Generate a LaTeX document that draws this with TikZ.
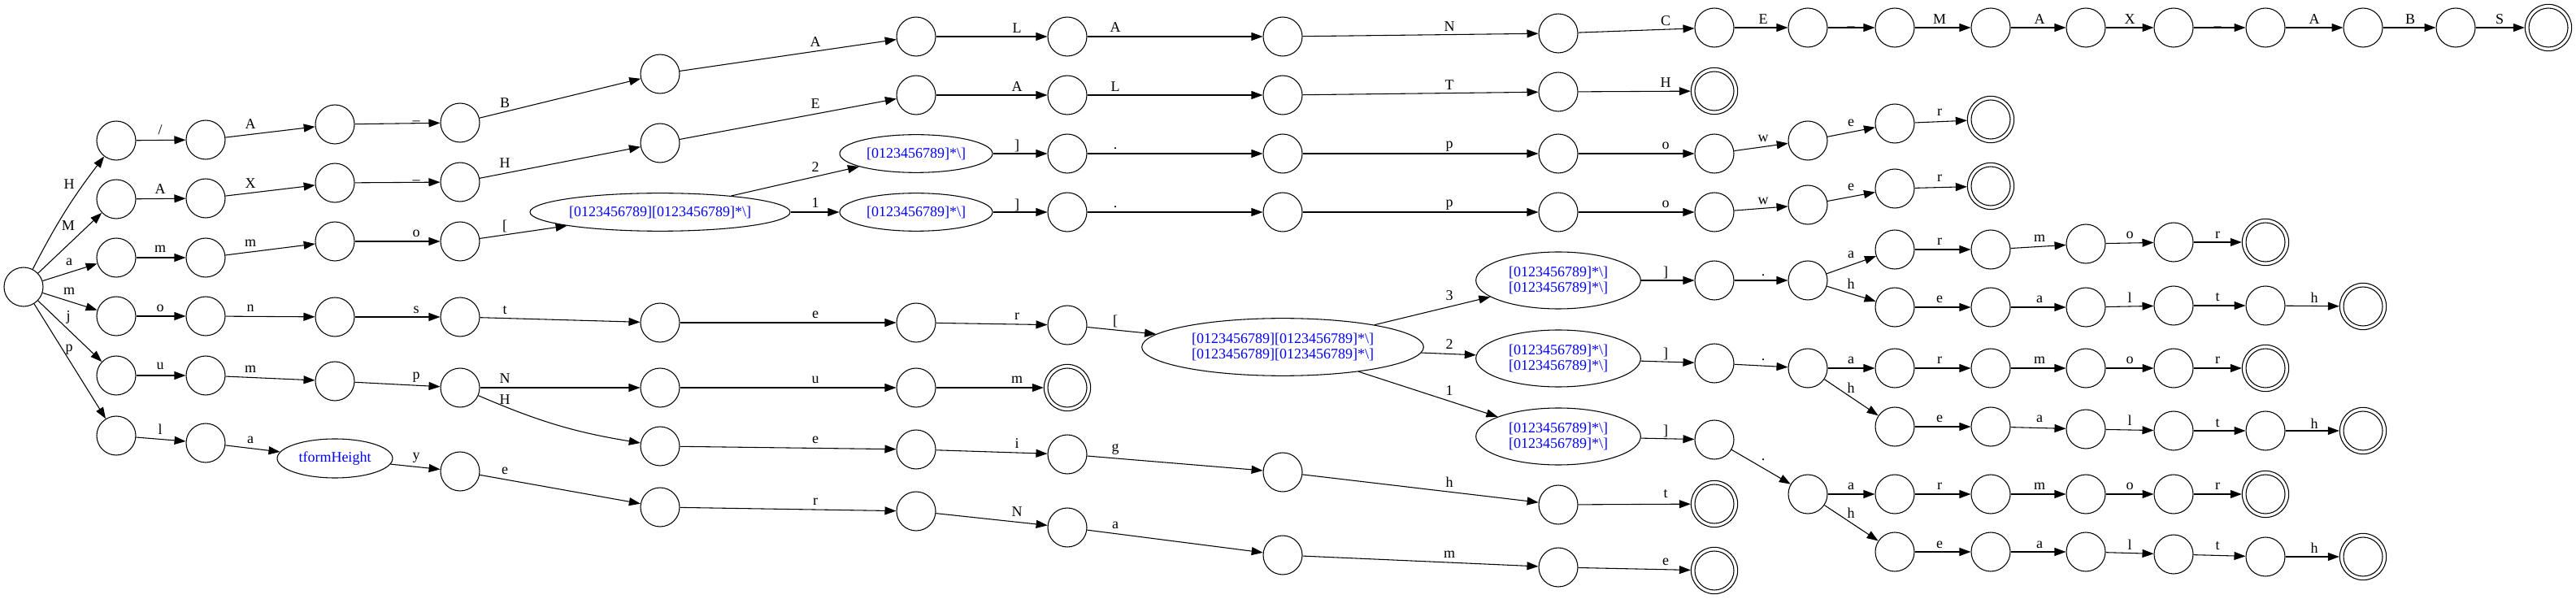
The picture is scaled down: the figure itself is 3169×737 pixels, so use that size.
\documentclass[tikz,border=0pt]{standalone}
\usepackage{fontspec}
\setmainfont{Liberation Serif}
\usepackage{xcolor}
\usepackage{tikz}
\usetikzlibrary{arrows.meta,shapes.geometric}

\begin{document}
\begin{tikzpicture}[
    x=0.75pt, y=-0.75pt,
    font=\fontsize{13.5}{14.5}\selectfont,
    st/.style={circle, draw, line width=0.8pt, minimum size=36pt, inner sep=0pt},
    acc/.style={st, minimum size=43pt, path picture={\draw[line width=0.8pt] (path picture bounding box.center) circle[radius=18pt];}},
    rgx/.style={ellipse, draw, line width=0.8pt, inner sep=0pt, text=blue, align=center},
    arrow/.style={-{Triangle[length=10.5pt, width=7.5pt]}, line width=0.8pt},
    lab/.style={inner sep=0pt}
]
\useasboundingbox (0,0) rectangle (3169,737);

% start state
\node[st] (start) at (29,353) {};

% H/A_BALANCE_MAX_ABS
\foreach \i/\x/\y in {1/143/173, 2/253/172, 3/412/153, 4/566/151, 5/812/91, 6/1127/45, 7/1313/45, 8/1578/45, 9/1917/41, 10/2109/34, 11/2224/34, 12/2331/34, 13/2449/34, 14/2566/34, 15/2674/34, 16/2787/34, 17/2907/34, 18/3021/34}
    \node[st] (ha\i) at (\x,\y) {};
\node[acc] (ha19) at (3135,34) {};

% MAX_HEALTH
\foreach \i/\x/\y in {1/143/245, 2/253/244, 3/412/225, 4/566/224, 5/812/176, 6/1127/117, 7/1313/117, 8/1578/117, 9/1917/113}
    \node[st] (mh\i) at (\x,\y) {};
\node[acc] (mh10) at (2109,112) {};

% ammo[..].power
\foreach \i/\x/\y in {1/143/317, 2/253/317, 3/412/297, 4/566/297}
    \node[st] (am\i) at (\x,\y) {};
\node[rgx, minimum width=240pt, minimum height=35pt] (amx) at (812,261) {[0123456789][0123456789]*\textbackslash]};
\node[rgx, minimum width=141pt, minimum height=35pt] (au6) at (1127,189) {[0123456789]*\textbackslash]};
\node[rgx, minimum width=141pt, minimum height=35pt] (al6) at (1127,261) {[0123456789]*\textbackslash]};
\foreach \i/\x/\y in {7/1313/189, 8/1578/189, 9/1917/189, 10/2109/189, 11/2224/173, 12/2331/152}
    \node[st] (au\i) at (\x,\y) {};
\node[acc] (au13) at (2449,147) {};
\foreach \i/\x/\y in {7/1313/261, 8/1578/261, 9/1917/261, 10/2109/261, 11/2224/252, 12/2331/232}
    \node[st] (al\i) at (\x,\y) {};
\node[acc] (al13) at (2449,229) {};

% monster[..][..].armor / .health
\foreach \i/\x/\y in {1/143/389, 2/253/389, 3/412/390, 4/566/390, 5/812/397, 6/1127/397, 7/1313/400}
    \node[st] (mo\i) at (\x,\y) {};
\node[rgx, minimum width=260pt, minimum height=53pt] (mox) at (1578,427) {[0123456789][0123456789]*\textbackslash]\\{}[0123456789][0123456789]*\textbackslash]};
\foreach \k/\y in {3/345, 2/441, 1/537}
    \node[rgx, minimum width=152pt, minimum height=52.5pt] (mc\k) at (1917,\y) {[0123456789]*\textbackslash]\\{}[0123456789]*\textbackslash]};
\foreach \k/\yj/\yd in {3/345/345, 2/447/453, 1/541/608} {
    \node[st] (b\k j) at (2109,\yj) {};
    \node[st] (b\k d) at (2224,\yd) {};
}
\foreach \i/\x/\y in {1/2331/307, 2/2449/307, 3/2566/300, 4/2674/298}
    \node[st] (b3a\i) at (\x,\y) {};
\node[acc] (b3a5) at (2787,298) {};
\foreach \i/\x/\y in {1/2331/378, 2/2449/378, 3/2566/378, 4/2674/376, 5/2787/376}
    \node[st] (b3h\i) at (\x,\y) {};
\node[acc] (b3h6) at (2907,377) {};
\foreach \i/\x/\y in {1/2331/453, 2/2449/453, 3/2566/453, 4/2674/453}
    \node[st] (b2a\i) at (\x,\y) {};
\node[acc] (b2a5) at (2787,453) {};
\foreach \i/\x/\y in {1/2331/525, 2/2449/525, 3/2566/528, 4/2674/530, 5/2787/530}
    \node[st] (b2h\i) at (\x,\y) {};
\node[acc] (b2h6) at (2907,530) {};
\foreach \i/\x/\y in {1/2331/608, 2/2449/608, 3/2566/608, 4/2674/608}
    \node[st] (b1a\i) at (\x,\y) {};
\node[acc] (b1a5) at (2787,608) {};
\foreach \i/\x/\y in {1/2331/679, 2/2449/679, 3/2566/679, 4/2674/682, 5/2787/685}
    \node[st] (b1h\i) at (\x,\y) {};
\node[acc] (b1h6) at (2907,685) {};

% jumpNum / jumpHeight
\foreach \i/\x/\y in {1/143/462, 2/253/462, 3/412/469, 4/566/477}
    \node[st] (ju\i) at (\x,\y) {};
\node[st] (jn5) at (812,477) {};
\node[st] (jn6) at (1127,477) {};
\node[acc] (jn7) at (1313,477) {};
\foreach \i/\x/\y in {5/812/549, 6/1127/553, 7/1313/559, 8/1578/581, 9/1917/621}
    \node[st] (jh\i) at (\x,\y) {};
\node[acc] (jh10) at (2109,620) {};

% platformHeight / playerName
\node[st] (pl1) at (143,536) {};
\node[st] (pl2) at (253,545) {};
\node[rgx, minimum width=106.5pt, minimum height=36pt] (plt) at (412,564) {tformHeight};
\foreach \i/\x/\y in {4/566/580, 5/812/624, 6/1127/629, 7/1313/649, 8/1578/683, 9/1917/698}
    \node[st] (pl\i) at (\x,\y) {};
\node[acc] (pl10) at (2109,702) {};

% transitions out of the start state
\draw[arrow] (start) to[bend left=5] (ha1) node[lab] at (85,227) {H};
\draw[arrow] (start) -- (mh1) node[lab] at (84,278) {M};
\draw[arrow] (start) -- (am1) node[lab] at (85,322) {a};
\draw[arrow] (start) -- (mo1) node[lab] at (85,358) {m};
\draw[arrow] (start) -- (ju1) node[lab] at (84,390) {j};
\draw[arrow] (start) -- (pl1) node[lab] at (85,430) {p};

% H/A_BALANCE_MAX_ABS
\draw[arrow] (ha1) -- (ha2) node[lab] at (197,160) {/};
\draw[arrow] (ha2) -- (ha3) node[lab] at (308,153) {A};
\draw[arrow] (ha3) -- (ha4) node[lab] at (512,149) {\_};
\draw[arrow] (ha4) -- (ha5) node[lab] at (621,127) {B};
\draw[arrow] (ha5) -- (ha6) node[lab] at (1003,52) {A};
\draw[arrow] (ha6) -- (ha7) node[lab] at (1251,35) {L};
\draw[arrow] (ha7) -- (ha8) node[lab] at (1372,34) {A};
\draw[arrow] (ha8) -- (ha9) node[lab] at (1783,33) {N};
\draw[arrow] (ha9) -- (ha10) node[lab] at (2049,26) {C};
\draw[arrow] (ha10) -- (ha11) node[lab] at (2169,24) {E};
\draw[arrow] (ha11) -- (ha12) node[lab] at (2277,33) {\_};
\draw[arrow] (ha12) -- (ha13) node[lab] at (2386,24) {M};
\draw[arrow] (ha13) -- (ha14) node[lab] at (2509,24) {A};
\draw[arrow] (ha14) -- (ha15) node[lab] at (2620,24) {X};
\draw[arrow] (ha15) -- (ha16) node[lab] at (2728,33) {\_};
\draw[arrow] (ha16) -- (ha17) node[lab] at (2847,24) {A};
\draw[arrow] (ha17) -- (ha18) node[lab] at (2965,24) {B};
\draw[arrow] (ha18) -- (ha19) node[lab] at (3075,24) {S};

% MAX_HEALTH
\draw[arrow] (mh1) -- (mh2) node[lab] at (197,233) {A};
\draw[arrow] (mh2) -- (mh3) node[lab] at (308,226) {X};
\draw[arrow] (mh3) -- (mh4) node[lab] at (512,222) {\_};
\draw[arrow] (mh4) -- (mh5) node[lab] at (621,201) {H};
\draw[arrow] (mh5) -- (mh6) node[lab] at (1003,128) {E};
\draw[arrow] (mh6) -- (mh7) node[lab] at (1251,107) {A};
\draw[arrow] (mh7) -- (mh8) node[lab] at (1372,107) {L};
\draw[arrow] (mh8) -- (mh9) node[lab] at (1783,105) {T};
\draw[arrow] (mh9) -- (mh10) node[lab] at (2049,102) {H};

% ammo
\draw[arrow] (am1) -- (am2) node[lab] at (197,306) {m};
\draw[arrow] (am2) -- (am3) node[lab] at (308,299) {m};
\draw[arrow] (am3) -- (am4) node[lab] at (512,287) {o};
\draw[arrow] (am4) -- (amx) node[lab] at (621,278) {[};
\draw[arrow] (amx) -- (au6) node[lab] at (1003,206) {2};
\draw[arrow] (amx) -- (al6) node[lab] at (1003,250) {1};
\draw[arrow] (au6) -- (au7) node[lab] at (1251,179) {]};
\draw[arrow] (al6) -- (al7) node[lab] at (1251,252) {]};
\draw[arrow] (au7) -- (au8) node[lab] at (1372,183) {.};
\draw[arrow] (al7) -- (al8) node[lab] at (1372,255) {.};
\draw[arrow] (au8) -- (au9) node[lab] at (1783,180) {p};
\draw[arrow] (al8) -- (al9) node[lab] at (1783,252) {p};
\draw[arrow] (au9) -- (au10) node[lab] at (2049,179) {o};
\draw[arrow] (al9) -- (al10) node[lab] at (2049,251) {o};
\draw[arrow] (au10) -- (au11) node[lab] at (2169,170) {w};
\draw[arrow] (al10) -- (al11) node[lab] at (2169,247) {w};
\draw[arrow] (au11) -- (au12) node[lab] at (2277,151) {e};
\draw[arrow] (al11) -- (al12) node[lab] at (2277,230) {e};
\draw[arrow] (au12) -- (au13) node[lab] at (2386,138) {r};
\draw[arrow] (al12) -- (al13) node[lab] at (2386,219) {r};

% monster
\draw[arrow] (mo1) -- (mo2) node[lab] at (197,379) {o};
\draw[arrow] (mo2) -- (mo3) node[lab] at (308,379) {n};
\draw[arrow] (mo3) -- (mo4) node[lab] at (512,381) {s};
\draw[arrow] (mo4) -- (mo5) node[lab] at (621,382) {t};
\draw[arrow] (mo5) -- (mo6) node[lab] at (1003,387) {e};
\draw[arrow] (mo6) -- (mo7) node[lab] at (1251,389) {r};
\draw[arrow] (mo7) -- (mox) node[lab] at (1372,395) {[};
\draw[arrow] (mox) -- (mc3) node[lab] at (1783,364) {3};
\draw[arrow] (mox) -- (mc2) node[lab] at (1783,424) {2};
\draw[arrow] (mox) -- (mc1) node[lab] at (1783,481) {1};
\draw[arrow] (mc3) -- (b3j) node[lab] at (2049,335) {]};
\draw[arrow] (mc2) -- (b2j) node[lab] at (2049,435) {]};
\draw[arrow] (mc1) -- (b1j) node[lab] at (2049,530) {]};
\draw[arrow] (b3j) -- (b3d) node[lab] at (2169,339) {.};
\draw[arrow] (b2j) -- (b2d) node[lab] at (2169,443) {.};
\draw[arrow] (b1j) -- (b1d) node[lab] at (2169,566) {.};

\draw[arrow] (b3d) -- (b3a1) node[lab] at (2277,313) {a};
\draw[arrow] (b3a1) -- (b3a2) node[lab] at (2386,297) {r};
\draw[arrow] (b3a2) -- (b3a3) node[lab] at (2509,293) {m};
\draw[arrow] (b3a3) -- (b3a4) node[lab] at (2620,289) {o};
\draw[arrow] (b3a4) -- (b3a5) node[lab] at (2728,289) {r};
\draw[arrow] (b3d) -- (b3h1) node[lab] at (2277,349) {h};
\draw[arrow] (b3h1) -- (b3h2) node[lab] at (2386,368) {e};
\draw[arrow] (b3h2) -- (b3h3) node[lab] at (2509,368) {a};
\draw[arrow] (b3h3) -- (b3h4) node[lab] at (2620,366) {l};
\draw[arrow] (b3h4) -- (b3h5) node[lab] at (2728,366) {t};
\draw[arrow] (b3h5) -- (b3h6) node[lab] at (2847,366) {h};

\draw[arrow] (b2d) -- (b2a1) node[lab] at (2277,443) {a};
\draw[arrow] (b2a1) -- (b2a2) node[lab] at (2386,443) {r};
\draw[arrow] (b2a2) -- (b2a3) node[lab] at (2509,443) {m};
\draw[arrow] (b2a3) -- (b2a4) node[lab] at (2620,443) {o};
\draw[arrow] (b2a4) -- (b2a5) node[lab] at (2728,443) {r};
\draw[arrow] (b2d) -- (b2h1) node[lab] at (2277,477) {h};
\draw[arrow] (b2h1) -- (b2h2) node[lab] at (2386,515) {e};
\draw[arrow] (b2h2) -- (b2h3) node[lab] at (2509,515) {a};
\draw[arrow] (b2h3) -- (b2h4) node[lab] at (2620,517) {l};
\draw[arrow] (b2h4) -- (b2h5) node[lab] at (2728,521) {t};
\draw[arrow] (b2h5) -- (b2h6) node[lab] at (2847,521) {h};

\draw[arrow] (b1d) -- (b1a1) node[lab] at (2277,598) {a};
\draw[arrow] (b1a1) -- (b1a2) node[lab] at (2386,598) {r};
\draw[arrow] (b1a2) -- (b1a3) node[lab] at (2509,598) {m};
\draw[arrow] (b1a3) -- (b1a4) node[lab] at (2620,598) {o};
\draw[arrow] (b1a4) -- (b1a5) node[lab] at (2728,598) {r};
\draw[arrow] (b1d) -- (b1h1) node[lab] at (2277,631) {h};
\draw[arrow] (b1h1) -- (b1h2) node[lab] at (2386,670) {e};
\draw[arrow] (b1h2) -- (b1h3) node[lab] at (2509,670) {a};
\draw[arrow] (b1h3) -- (b1h4) node[lab] at (2620,670) {l};
\draw[arrow] (b1h4) -- (b1h5) node[lab] at (2728,672) {t};
\draw[arrow] (b1h5) -- (b1h6) node[lab] at (2847,674) {h};

% jump
\draw[arrow] (ju1) -- (ju2) node[lab] at (197,450) {u};
\draw[arrow] (ju2) -- (ju3) node[lab] at (308,454) {m};
\draw[arrow] (ju3) -- (ju4) node[lab] at (512,464) {p};
\draw[arrow] (ju4) -- (jn5) node[lab] at (621,466) {N};
\draw[arrow] (jn5) -- (jn6) node[lab] at (1003,467) {u};
\draw[arrow] (jn6) -- (jn7) node[lab] at (1251,467) {m};
\draw[arrow] (ju4) to[bend right=7] (jh5) node[lab] at (621,492) {H};
\draw[arrow] (jh5) -- (jh6) node[lab] at (1003,541) {e};
\draw[arrow] (jh6) -- (jh7) node[lab] at (1251,546) {i};
\draw[arrow] (jh7) -- (jh8) node[lab] at (1372,553) {g};
\draw[arrow] (jh8) -- (jh9) node[lab] at (1783,593) {h};
\draw[arrow] (jh9) -- (jh10) node[lab] at (2049,608) {t};

% platformHeight / playerName
\draw[arrow] (pl1) -- (pl2) node[lab] at (197,528) {l};
\draw[arrow] (pl2) -- (plt) node[lab] at (308,541) {a};
\draw[arrow] (plt) -- (pl4) node[lab] at (512,563) {y};
\draw[arrow] (pl4) -- (pl5) node[lab] at (621,579) {e};
\draw[arrow] (pl5) -- (pl6) node[lab] at (1003,617) {r};
\draw[arrow] (pl6) -- (pl7) node[lab] at (1251,630) {N};
\draw[arrow] (pl7) -- (pl8) node[lab] at (1372,646) {a};
\draw[arrow] (pl8) -- (pl9) node[lab] at (1783,682) {m};
\draw[arrow] (pl9) -- (pl10) node[lab] at (2049,691) {e};
\end{tikzpicture}
\end{document}
